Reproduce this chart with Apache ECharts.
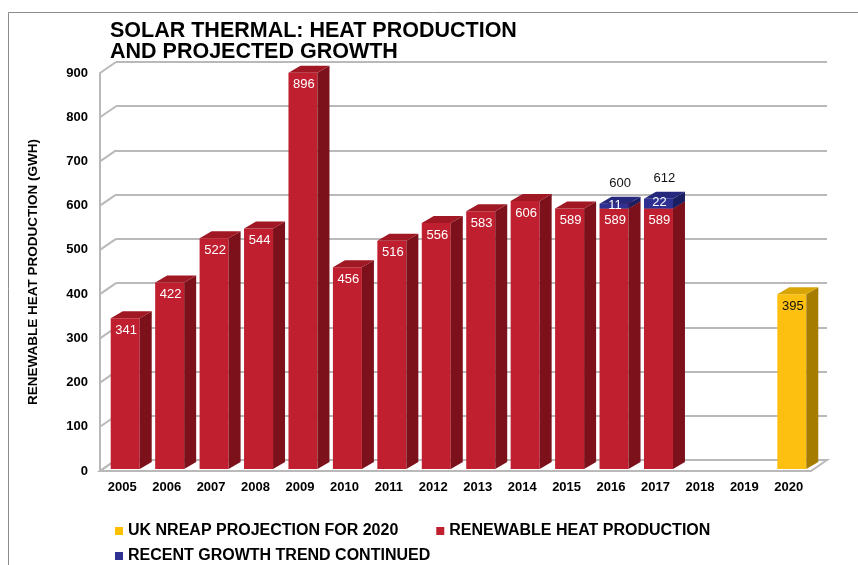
<!DOCTYPE html>
<html>
<head>
<meta charset="utf-8">
<script src="https://cdn.jsdelivr.net/npm/echarts@6.0.0/dist/echarts.min.js"></script>
<style>
  html, body { margin: 0; padding: 0; background: #fff; }
  #chart { width: 858px; height: 565px; }
</style>
</head>
<body>
<div id="chart"></div>
<script>
// --- data ---
const years = ['2005', '2006', '2007', '2008', '2009', '2010', '2011', '2012',
  '2013', '2014', '2015', '2016', '2017', '2018', '2019', '2020'];
const heatProduction = [341, 422, 522, 544, 896, 456, 516, 556, 583, 606, 589, 589, 589, null, null, null];
const growthTrend = [null, null, null, null, null, null, null, null, null, null, null, 11, 22, null, null, null];
const trendTotals = [null, null, null, null, null, null, null, null, null, null, null, 600, 612, null, null, null];
const nreapProjection = [null, null, null, null, null, null, null, null, null, null, null, null, null, null, null, 395];
const yTicks = [0, 100, 200, 300, 400, 500, 600, 700, 800, 900];

const NAME_NREAP = 'UK NREAP PROJECTION FOR 2020';
const NAME_HEAT = 'RENEWABLE HEAT PRODUCTION';
const NAME_TREND = 'RECENT GROWTH TREND CONTINUED';

// fake 3d geometry
const WALL_DX = 16, WALL_DY = -11;
const BAR_OFF_X = 3, BAR_OFF_Y = -2;
const BAR_DX = 12, BAR_DY = -7;
const BAR_HALF = 14.5;
const FONT = '"Liberation Sans", Arial, sans-serif';
const GRID_LINE = '#b9b9b9';

const red = { front: '#c01f2f', side: '#7c111b', top: '#a01824' };
const blue = { front: '#2e3192', side: '#1c1e62', top: '#25287c' };
const yellow = { front: '#fec010', side: '#a67c00', top: '#d9a406' };

// [index, top, base, label, total]
const heatData = heatProduction.map((v, i) => v == null ? null : [i, v, 0, v, null]).filter(Boolean);
const trendData = growthTrend.map((v, i) => v == null ? null :
  [i, heatProduction[i] + v, heatProduction[i], v, trendTotals[i]]).filter(Boolean);
const nreapData = nreapProjection.map((v, i) => v == null ? null : [i, v, 0, v, null]).filter(Boolean);

function boxRenderer(c, labelColor, stacked) {
  return function (params, api) {
    const i = api.value(0);
    const pTop = api.coord([i, api.value(1)]);
    const pBase = api.coord([i, api.value(2)]);
    const cx = pTop[0] + BAR_OFF_X;
    const xl = cx - BAR_HALF, xr = cx + BAR_HALF;
    const yt = pTop[1] + BAR_OFF_Y, yb = pBase[1] + BAR_OFF_Y;
    const children = [
      { type: 'rect', shape: { x: xl, y: yt, width: xr - xl, height: yb - yt }, style: { fill: c.front } },
      { type: 'polygon', shape: { points: [[xr, yt], [xr + BAR_DX, yt + BAR_DY], [xr + BAR_DX, yb + BAR_DY], [xr, yb]] }, style: { fill: c.side } },
      { type: 'polygon', shape: { points: [[xl, yt], [xl + BAR_DX, yt + BAR_DY], [xr + BAR_DX, yt + BAR_DY], [xr, yt]] }, style: { fill: c.top } }
    ];
    const ly = stacked ? (yt + yb) / 2 - 1 : yt + 12;
    children.push({
      type: 'text', z2: 10,
      style: {
        text: String(api.value(3)), x: cx + 1, y: ly, fill: labelColor,
        font: '13px ' + FONT, textAlign: 'center', textVerticalAlign: 'middle',
        align: 'center', verticalAlign: 'middle'
      }
    });
    const total = api.value(4);
    if (stacked && total != null && !isNaN(total)) {
      children.push({
        type: 'text', z2: 10,
        style: {
          text: String(total), x: cx + BAR_DX / 2, y: yt - 20, fill: '#111',
          font: '13px ' + FONT, textAlign: 'center', textVerticalAlign: 'middle',
          align: 'center', verticalAlign: 'middle'
        }
      });
    }
    return { type: 'group', children };
  };
}

const chart = echarts.init(document.getElementById('chart'));
chart.setOption({
  backgroundColor: '#fff',
  animation: false,
  title: {
    text: 'SOLAR THERMAL: HEAT PRODUCTION\nAND PROJECTED GROWTH',
    left: 110, top: 21, padding: 0,
    textStyle: { fontFamily: FONT, fontSize: 21.5, fontWeight: 'bold', lineHeight: 21, color: '#000' }
  },
  legend: [
    {
      data: [NAME_NREAP, NAME_HEAT], left: 115, top: 523, padding: 0, icon: 'rect',
      itemWidth: 8, itemHeight: 8, itemGap: 38, selectedMode: false,
      textStyle: { fontFamily: FONT, fontSize: 16, fontWeight: 'bold', color: '#000' }
    },
    {
      data: [NAME_TREND], left: 115, top: 548, padding: 0, icon: 'rect',
      itemWidth: 8, itemHeight: 8, selectedMode: false,
      textStyle: { fontFamily: FONT, fontSize: 16, fontWeight: 'bold', color: '#000' }
    }
  ],
  graphic: [
    { type: 'line', shape: { x1: 8.5, y1: 12.5, x2: 858, y2: 12.5 }, style: { stroke: '#8c8c8c', lineWidth: 1 } },
    { type: 'line', shape: { x1: 8.5, y1: 12.5, x2: 8.5, y2: 565 }, style: { stroke: '#8c8c8c', lineWidth: 1 } }
  ],
  grid: [
    { left: 100, top: 73, width: 711, height: 398 },
    { left: 100 + WALL_DX, top: 73 + WALL_DY, width: 711, height: 398 }
  ],
  xAxis: [
    {
      type: 'category', data: years, gridIndex: 0,
      axisLine: { show: false }, axisTick: { show: false },
      axisLabel: { margin: 10, color: '#000', fontFamily: FONT, fontSize: 13, fontWeight: 'bold' }
    },
    { type: 'category', data: years, gridIndex: 1, show: false }
  ],
  yAxis: [
    {
      type: 'value', gridIndex: 0, min: 0, max: 900, interval: 100,
      name: 'RENEWABLE HEAT PRODUCTION (GWH)', nameLocation: 'middle', nameRotate: 90, nameGap: 60,
      nameTextStyle: { fontFamily: FONT, fontSize: 13.5, fontWeight: 'bold', color: '#000' },
      axisLine: { show: true, lineStyle: { color: GRID_LINE, width: 2 } },
      axisTick: { show: false }, splitLine: { show: false },
      axisLabel: { margin: 12, color: '#000', fontFamily: FONT, fontSize: 13, fontWeight: 'bold' }
    },
    {
      type: 'value', gridIndex: 1, min: 0, max: 900, interval: 100,
      axisLine: { show: false }, axisTick: { show: false }, axisLabel: { show: false },
      splitLine: { show: true, lineStyle: { color: GRID_LINE, width: 2 } }
    }
  ],
  series: [
    {
      // floor
      type: 'custom', silent: true, xAxisIndex: 0, yAxisIndex: 0, z: 1,
      data: [[0, 0]],
      renderItem: (params) => {
        const cs = params.coordSys;
        const y0 = cs.y + cs.height;
        return {
          type: 'polygon',
          shape: { points: [[cs.x, y0], [cs.x + cs.width, y0], [cs.x + cs.width + WALL_DX, y0 + WALL_DY], [cs.x + WALL_DX, y0 + WALL_DY]] },
          style: { fill: '#fff', stroke: GRID_LINE, lineWidth: 2 }
        };
      }
    },
    {
      // side wall tick diagonals
      type: 'custom', silent: true, xAxisIndex: 0, yAxisIndex: 0, z: 1,
      data: yTicks.map(v => [0, v]),
      renderItem: (params, api) => {
        const x0 = params.coordSys.x;
        const y = api.coord([0, api.value(1)])[1];
        return {
          type: 'line',
          shape: { x1: x0, y1: y, x2: x0 + WALL_DX, y2: y + WALL_DY },
          style: { stroke: GRID_LINE, lineWidth: 2 }
        };
      }
    },
    {
      name: NAME_HEAT, type: 'custom', xAxisIndex: 0, yAxisIndex: 0, z: 3,
      itemStyle: { color: red.front },
      data: heatData, renderItem: boxRenderer(red, '#fff', false)
    },
    {
      name: NAME_TREND, type: 'custom', xAxisIndex: 0, yAxisIndex: 0, z: 4,
      itemStyle: { color: blue.front },
      data: trendData, renderItem: boxRenderer(blue, '#fff', true)
    },
    {
      name: NAME_NREAP, type: 'custom', xAxisIndex: 0, yAxisIndex: 0, z: 3,
      itemStyle: { color: '#ffc000' },
      data: nreapData, renderItem: boxRenderer(yellow, '#111', false)
    }
  ]
});
</script>
</body>
</html>
